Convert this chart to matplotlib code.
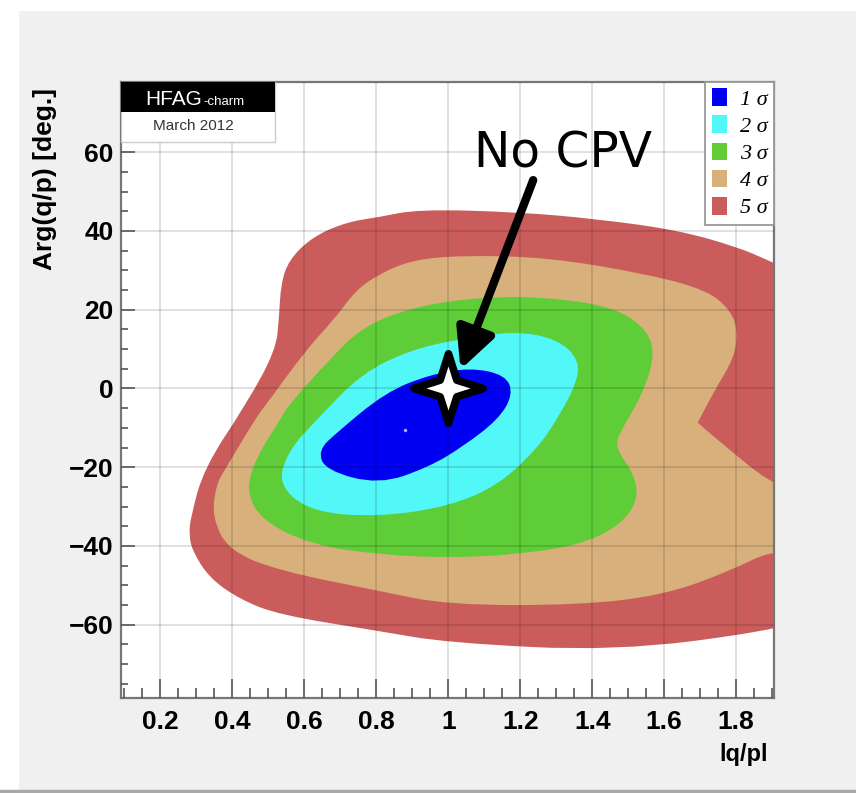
import numpy as np
import matplotlib
matplotlib.use('Agg')
import matplotlib.pyplot as plt
from matplotlib.path import Path
from matplotlib.patches import PathPatch, Rectangle, Patch

# contour outlines of the |q/p| vs Arg(q/p) fit, one per confidence level
sig5_x = [0.535, 0.530, 0.521, 0.438, 0.322, 0.284, 0.280, 0.289, 0.336, 0.420, 0.530, 0.807, 1.000,
          1.463, 1.895, 2.00, 2.00, 1.887, 1.804, 1.638, 1.416, 1.194, 0.917, 0.807, 0.715, 0.621, 0.557]
sig5_y = [26.5, 18.1, 9.7, -4.1, -20.1, -32.8, -37.2, -41.2, -48.1, -53.5, -57.5, -61.6, -64.6,
          -66.7, -61.6, -58.0, 28.0, 32.6, 35.9, 40.2, 43.0, 44.8, 45.5, 43.5, 42.2, 38.4, 32.6]

sig4_x = [0.898, 1.036, 1.277, 1.555, 1.721, 1.784, 1.804, 1.795, 1.740, 1.693, 1.693, 1.784, 1.887,
          2.00, 2.00, 1.895, 1.784, 1.602, 1.369, 1.000, 0.807, 0.530, 0.391, 0.344, 0.355, 0.383,
          0.466, 0.494, 0.604, 0.688, 0.743, 0.807]
sig4_y = [32.6, 33.8, 33.3, 29.0, 24.9, 19.8, 14.8, 7.9, -0.5, -8.7, -8.7, -15.8, -23.4,
          -28.0, -42.0, -41.2, -46.3, -52.4, -55.0, -55.0, -51.4, -46.3, -41.2, -32.8, -24.4, -20.1,
          -7.4, -4.1, 9.7, 18.1, 24.9, 29.0]

sig3_x = [0.898, 1.084, 1.277, 1.463, 1.555, 1.574, 1.535, 1.479, 1.463, 1.518, 1.527, 1.479,
          1.369, 1.186, 1.000, 0.807, 0.621, 0.482, 0.438, 0.466, 0.528, 0.557, 0.668, 0.759]
sig3_y = [20.6, 23.2, 23.2, 20.6, 14.8, 7.9, -2.3, -10.7, -15.0, -21.9, -28.5, -34.6,
          -39.7, -42.2, -43.0, -42.2, -39.7, -33.6, -26.0, -17.6, -8.7, -4.1, 7.1, 15.5]

sig2_x = [0.898, 1.036, 1.186, 1.305, 1.365, 1.355, 1.305, 1.250, 1.139, 1.000, 0.807, 0.621,
          0.527, 0.555, 0.640, 0.759]
sig2_y = [9.9, 12.6, 14.6, 12.5, 7.1, 1.0, -7.4, -15.0, -24.6, -30.0, -32.6, -31.4,
          -24.6, -15.8, -7.4, 3.8]

sig1_x = [0.945, 1.060, 1.160, 1.180, 1.140, 1.040, 0.945, 0.807, 0.660, 0.638, 0.690, 0.826]
sig1_y = [3.4, 5.3, 3.4, -1.5, -7.8, -14.8, -20.0, -24.4, -20.8, -15.8, -11.2, -1.0]

sigma_labels = ['1 σ', '2 σ', '3 σ', '4 σ', '5 σ']
sigma_colors = ['#0000f2', '#52f7f7', '#5ecd38', '#d8b07c', '#cb5c5c']

x_ticks = [0.2, 0.4, 0.6, 0.8, 1.0, 1.2, 1.4, 1.6, 1.8]
x_ticklabels = ['0.2', '0.4', '0.6', '0.8', '1', '1.2', '1.4', '1.6', '1.8']
y_ticks = [-60, -40, -20, 0, 20, 40, 60]

no_cpv = (1.0, 0.0)
best_fit = (0.881, -10.5)

plt.rcParams['font.family'] = ['Liberation Sans', 'DejaVu Sans']


def smooth_region(xs, ys):
    # closed quadratic spline through the edge midpoints of the outline
    pts = np.column_stack([xs, ys])
    mids = (pts + np.roll(pts, -1, axis=0)) / 2
    verts = [mids[-1]]
    codes = [Path.MOVETO]
    for p, m in zip(pts, mids):
        verts += [p, m]
        codes += [Path.CURVE3, Path.CURVE3]
    verts.append(mids[-1])
    codes.append(Path.CLOSEPOLY)
    return Path(verts, codes)


fig = plt.figure(figsize=(8.56, 7.93), dpi=100)
fig.patch.set_facecolor('#f0f0f0')
fig.add_artist(Rectangle((0, 0), 18 / 856, 1, transform=fig.transFigure, color='white', zorder=-5))
fig.add_artist(Rectangle((0, 1 - 10 / 793), 1, 10 / 793, transform=fig.transFigure, color='white', zorder=-5))
fig.add_artist(Rectangle((0, 0), 1, 3 / 793, transform=fig.transFigure, color='#a8a8a8', zorder=-4))

ax = fig.add_axes([0.1410, 0.1198, 0.7632, 0.7772])
ax.set_facecolor('white')

outlines = [(sig5_x, sig5_y), (sig4_x, sig4_y), (sig3_x, sig3_y), (sig2_x, sig2_y), (sig1_x, sig1_y)]
for (xs, ys), col in zip(outlines, sigma_colors[::-1]):
    ax.add_patch(PathPatch(smooth_region(xs, ys), facecolor=col, edgecolor='none', zorder=1))

ax.set_xlim(0.09, 1.905)
ax.set_ylim(-78.6, 77.9)

ax.set_xticks(x_ticks)
ax.set_xticklabels(x_ticklabels)
ax.set_xticks(np.arange(0.1, 1.91, 0.05), minor=True)
ax.set_yticks(y_ticks)
ax.set_yticks(np.arange(-75, 76, 5), minor=True)
ax.tick_params(axis='both', which='both', direction='in', colors='#555555', labelcolor='black',
               labelsize=19)
ax.tick_params(axis='x', which='major', length=14, width=1.2, pad=9)
ax.tick_params(axis='x', which='minor', length=7, width=1.2)
ax.tick_params(axis='y', which='major', length=10, width=1.2, pad=5)
ax.tick_params(axis='y', which='minor', length=5, width=1.2)
for lab in ax.get_xticklabels() + ax.get_yticklabels():
    lab.set_fontweight('bold')

ax.set_axisbelow(False)
ax.grid(True, which='major', color='black', alpha=0.14, lw=1.2)
for sp in ax.spines.values():
    sp.set_color('#777777')
    sp.set_linewidth(1.6)

ax.set_ylabel('Arg(q/p) [deg.]', loc='top', fontsize=19, fontweight='bold')
ax.yaxis.set_label_coords(-0.098, 0.99)
ax.set_xlabel('lq/pl', loc='right', fontsize=17, fontweight='bold')
ax.xaxis.set_label_coords(0.991, -0.073)

# HFAG label box
ax.add_patch(Rectangle((0, 0.902), 0.236, 0.098, transform=ax.transAxes, facecolor='white',
                       edgecolor='#cccccc', lw=1, zorder=4))
ax.add_patch(Rectangle((0, 0.951), 0.236, 0.049, transform=ax.transAxes, facecolor='black',
                       edgecolor='none', zorder=4.1))
ax.text(0.037, 0.962, 'HFAG', color='white', fontsize=15, transform=ax.transAxes, va='baseline',
        zorder=5)
ax.text(0.127, 0.962, '-charm', color='white', fontsize=9.5, transform=ax.transAxes, va='baseline',
        zorder=5)
ax.text(0.111, 0.928, 'March 2012', color='#333333', fontsize=11, transform=ax.transAxes,
        ha='center', va='center', zorder=5)

handles = [Patch(facecolor=c, edgecolor='none') for c in sigma_colors]
leg = ax.legend(handles, sigma_labels, loc='upper right', bbox_to_anchor=(1, 1), borderaxespad=0,
                fancybox=False, edgecolor='#999999', framealpha=1,
                prop={'family': 'Liberation Serif', 'style': 'italic', 'size': 16},
                handlelength=0.7, handleheight=0.85, labelspacing=0.25, handletextpad=0.55,
                borderpad=0.3)
leg.get_frame().set_linewidth(1.3)

# best fit point and the no-CPV point
ax.plot([best_fit[0]], [best_fit[1]], 'o', ms=2.5, color='#c0a8ff', mec='none', zorder=3)

r = 0.24
star = Path([(0, 1), (r, r), (1, 0), (r, -r), (0, -1), (-r, -r), (-1, 0), (-r, r), (0, 1)], closed=True)
ax.plot([no_cpv[0]], [no_cpv[1]], marker=star, ms=50, mfc='white', mec='black', mew=5.5, zorder=6)

ax.annotate('', xy=(1.034, 4.8), xytext=(1.236, 52.9),
            arrowprops=dict(arrowstyle='-|>,head_length=0.85,head_width=0.42', lw=6, color='black',
                            shrinkA=0, shrinkB=0, mutation_scale=28), zorder=7)
ax.text(1.32, 56, 'No CPV', ha='center', va='baseline', fontsize=35, family='DejaVu Sans', zorder=7)

fig.savefig('out.png', dpi=100, facecolor=fig.get_facecolor())
